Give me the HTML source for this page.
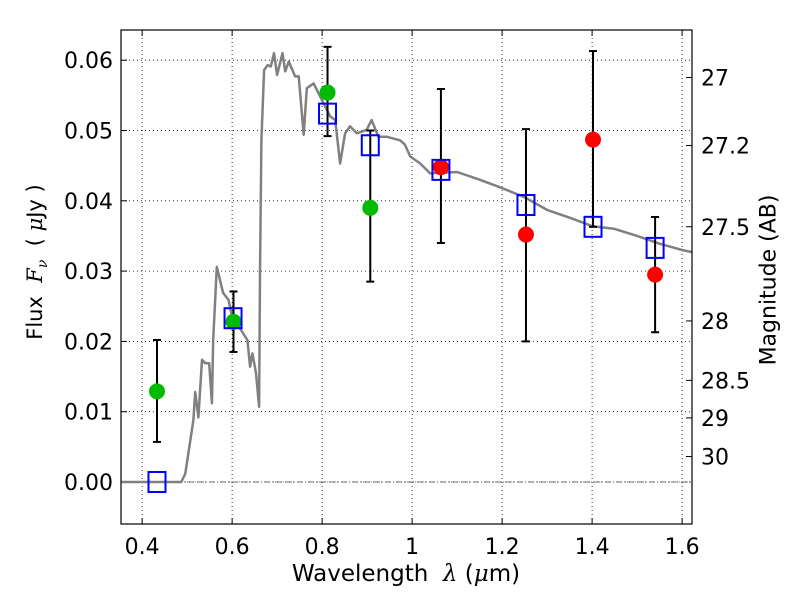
<!DOCTYPE html>
<html><head><meta charset="utf-8"><style>
body{margin:0;background:#fff;}
svg{display:block;font-family:"DejaVu Sans","Liberation Sans",sans-serif;}
</style></head><body>
<svg id="chart" width="800" height="600"></svg>
<script>
const specWave=[0.353,0.487,0.496,0.514,0.518,0.525,0.533,0.54,0.549,0.555,0.558,0.566,0.573,0.58,0.592,0.6,0.62,0.634,0.64,0.645,0.653,0.66,0.662,0.665,0.671,0.679,0.686,0.693,0.7,0.712,0.718,0.726,0.74,0.748,0.759,0.766,0.781,0.796,0.818,0.829,0.84,0.851,0.862,0.877,0.899,0.91,0.925,0.944,0.973,0.984,0.996,1.018,1.04,1.1,1.15,1.2,1.25,1.3,1.35,1.4,1.45,1.5,1.55,1.6,1.622];
const specFlux=[0,0,0.0012,0.0088,0.0128,0.0092,0.0174,0.0169,0.0169,0.0112,0.0202,0.0306,0.0287,0.0269,0.0259,0.0235,0.0216,0.0202,0.0164,0.0183,0.0155,0.0107,0.0297,0.0486,0.0586,0.0593,0.0591,0.061,0.0579,0.061,0.0584,0.0598,0.0577,0.0577,0.0494,0.056,0.0567,0.0548,0.052,0.0515,0.0453,0.0496,0.0506,0.0496,0.0501,0.0515,0.0491,0.0491,0.0486,0.048,0.0463,0.0453,0.0439,0.0441,0.043,0.0418,0.0405,0.0387,0.0376,0.0364,0.036,0.035,0.0339,0.033,0.0327];
const greenWave=[0.433,0.603,0.812,0.907];
const greenFlux=[0.0129,0.0228,0.0554,0.039];
const greenLo=[0.0057,0.0185,0.0492,0.0285];
const greenHi=[0.0202,0.0271,0.0619,0.05];
const redWave=[1.064,1.253,1.402,1.54];
const redFlux=[0.0448,0.0352,0.0487,0.0295];
const redLo=[0.034,0.02,0.0363,0.0213];
const redHi=[0.0559,0.0502,0.0613,0.0377];
const modelWave=[0.433,0.602,0.812,0.907,1.064,1.253,1.402,1.54];
const modelFlux=[0,0.0233,0.0524,0.0479,0.0444,0.0394,0.0363,0.0333];
const xTicks=[0.4,0.6,0.8,1,1.2,1.4,1.6];
const xTickLabels=["0.4","0.6","0.8","1","1.2","1.4","1.6"];
const yTicks=[0,0.01,0.02,0.03,0.04,0.05,0.06];
const yTickLabels=["0.00","0.01","0.02","0.03","0.04","0.05","0.06"];
const magTicks=[27,27.2,27.5,28,28.5,29,30];
const magTickLabels=["27","27.2","27.5","28","28.5","29","30"];

const L=121,R=692,T=30,B=524;
const xMin=0.353,xMax=1.622;
function xs(v){return L+(v-xMin)/(xMax-xMin)*(R-L);}
function ys(f){return 482-f*7030;}
function magToFlux(m){return Math.pow(10,(23.9-m)/2.5);}
const svg=document.getElementById('chart');
const NS='http://www.w3.org/2000/svg';
function mk(tag,attrs,parent){const e=document.createElementNS(NS,tag);for(const k in attrs)e.setAttribute(k,attrs[k]);(parent||svg).appendChild(e);return e;}

const bg=mk('rect',{x:L,y:T,width:R-L,height:B-T,fill:'#fff'});


xTicks.forEach((v,i)=>{
  const g=mk('line',{x1:xs(v),x2:xs(v),y1:T,y2:B,stroke:'#000','stroke-width':0.8,'stroke-dasharray':'1,3'});
  
  
  const t=mk('line',{x1:xs(v),x2:xs(v),y1:B,y2:B-6,stroke:'#000'});
  
  
  mk('line',{x1:xs(v),x2:xs(v),y1:T,y2:T+6,stroke:'#000'});
  const l=mk('text',{x:xs(v),y:B+30,'font-size':22,'text-anchor':'middle'});
  l.textContent=xTickLabels[i];
  
  
});
yTicks.forEach((v,i)=>{
  const g=mk('line',{x1:L,x2:R,y1:ys(v),y2:ys(v),stroke:'#000','stroke-width':0.8,'stroke-dasharray':'1,3'});
  
  
  const t=mk('line',{x1:L,x2:L+6,y1:ys(v),y2:ys(v),stroke:'#000'});
  
  
  const l=mk('text',{x:L-8,y:ys(v)+8,'font-size':22,'text-anchor':'end'});
  l.textContent=yTickLabels[i];
  
  
});
magTicks.forEach((m,i)=>{
  const y=ys(magToFlux(m));
  const t=mk('line',{x1:R,x2:R-6,y1:y,y2:y,stroke:'#000'});
  
  
  const l=mk('text',{x:R+9,y:y+8,'font-size':22});
  l.textContent=magTickLabels[i];
  
  
});
const z=mk('line',{x1:L,x2:R,y1:ys(0),y2:ys(0),stroke:'#444','stroke-width':0.8,'stroke-dasharray':'6,2,1,2'});


const sp=mk('path',{d:specWave.map((w,i)=>(i?'L':'M')+xs(w).toFixed(1)+','+ys(specFlux[i]).toFixed(1)).join(''),fill:'none',stroke:'#808080','stroke-width':2.5,'stroke-linejoin':'round'});


function errs(W,lo,hi,name){
  W.forEach((w,i)=>{
    const x=xs(w);
    const g=mk('g',{stroke:'#000','stroke-width':2});
    
    
    mk('line',{x1:x,x2:x,y1:ys(lo[i]),y2:ys(hi[i])},g);
    mk('line',{x1:x-4,x2:x+4,y1:ys(lo[i]),y2:ys(lo[i])},g);
    mk('line',{x1:x-4,x2:x+4,y1:ys(hi[i]),y2:ys(hi[i])},g);
  });
}
errs(greenWave,greenLo,greenHi,'green-error-bar');
errs(redWave,redLo,redHi,'red-error-bar');
greenWave.forEach((w,i)=>{
  const c=mk('circle',{cx:xs(w),cy:ys(greenFlux[i]),r:8,fill:'#00bb00'});
  
  
});
redWave.forEach((w,i)=>{
  const c=mk('circle',{cx:xs(w),cy:ys(redFlux[i]),r:8,fill:'#ff0000'});
  
  
});
modelWave.forEach((w,i)=>{
  const s=mk('rect',{x:xs(w)-8.5,y:ys(modelFlux[i])-10,width:17,height:20,fill:'none',stroke:'#0000ff','stroke-width':2});
  
  
});
const fr=mk('rect',{x:L,y:T,width:R-L,height:B-T,fill:'none',stroke:'#000','stroke-width':1.2});


</script>
<div style="position:absolute;left:0;top:0;width:800px;height:600px;pointer-events:none;font-family:'DejaVu Sans','Liberation Sans',sans-serif;">
<div style="position:absolute;left:406px;top:574px;font-size:23px;white-space:nowrap;transform:translate(-50%,-50%);">Wavelength &nbsp;<i style="font-family:'DejaVu Serif',serif;">λ</i> (<i style="font-family:'DejaVu Serif',serif;">μ</i>m)</div>
<div style="position:absolute;left:37px;top:262px;font-size:21px;white-space:nowrap;transform:translate(-50%,-50%) rotate(-90deg);">Flux &nbsp;<i style="font-family:'DejaVu Serif',serif;">F<sub style="font-size:14px;">ν</sub></i> &nbsp;( <i style="font-family:'DejaVu Serif',serif;">μ</i>Jy )</div>
<div style="position:absolute;left:769px;top:280px;font-size:22px;white-space:nowrap;transform:translate(-50%,-50%) rotate(-90deg);">Magnitude (AB)</div>
</div>
</body></html>
